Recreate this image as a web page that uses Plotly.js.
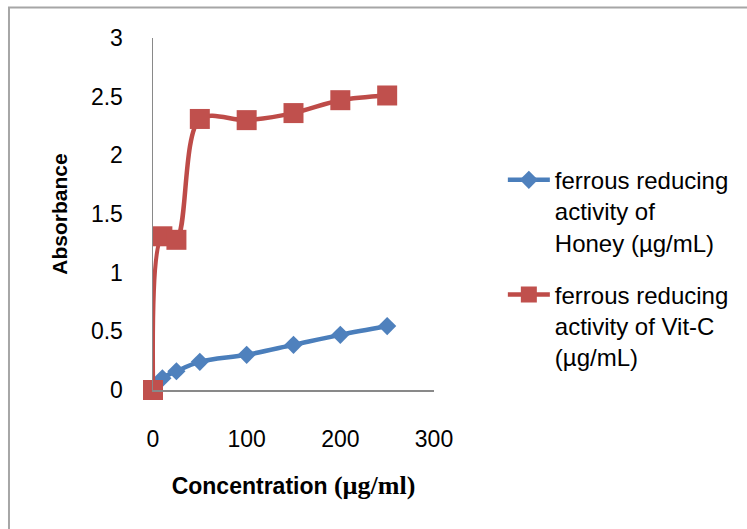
<!DOCTYPE html>
<html>
<head>
<meta charset="utf-8">
<script src="https://cdn.plot.ly/plotly-3.0.1.min.js"></script>
<style>
html,body{margin:0;padding:0;background:#fff;}
#chart{width:747px;height:529px;}
</style>
</head>
<body>
<div id="chart"></div>
<script>
const concentration = [0, 10, 25, 50, 100, 150, 200, 250];
const honeyAbs = [0, 0.10, 0.16, 0.24, 0.30, 0.385, 0.47, 0.545];
const vitCAbs = [0, 1.31, 1.28, 2.31, 2.30, 2.36, 2.47, 2.51];
const seriesNames = [
  'ferrous reducing<br>activity of<br>Honey (µg/mL)',
  'ferrous reducing<br>activity of Vit-C<br>(µg/mL)'
];
const xTicks = [0, 100, 200, 300];
const yTicks = [0, 0.5, 1, 1.5, 2, 2.5, 3];

const font = 'Liberation Sans, Arial, sans-serif';

const traces = [
  {
    x: concentration, y: honeyAbs, name: seriesNames[0], legendgroup: 'g1',
    type: 'scatter', mode: 'lines+markers',
    line: {color: '#4a7ebb', width: 4.5, shape: 'spline', smoothing: 1},
    marker: {symbol: 'diamond', size: 14, color: '#4f81bd', line: {width: 0}},
    cliponaxis: false
  },
  {
    x: concentration, y: vitCAbs, name: seriesNames[1], legendgroup: 'g2',
    type: 'scatter', mode: 'lines+markers',
    line: {color: '#be4b48', width: 4.5, shape: 'spline', smoothing: 0.9},
    marker: {symbol: 'square', size: 20, color: '#c0504d', line: {width: 0}},
    cliponaxis: false
  }
];

const layout = {
  width: 747, height: 529,
  margin: {l: 153, r: 313, t: 38, b: 139, pad: 0},
  paper_bgcolor: '#ffffff', plot_bgcolor: '#ffffff',
  font: {family: font, size: 22, color: '#000'},
  showlegend: true,
  legend: {
    x: 1.245, y: 0.66, xanchor: 'left', yanchor: 'top',
    font: {family: font, size: 24, color: '#000'},
    itemwidth: 42, tracegroupgap: 18, traceorder: 'grouped', valign: 'top',
    bgcolor: 'rgba(0,0,0,0)', borderwidth: 0
  },
  xaxis: {
    range: [0, 300], tickvals: xTicks, ticktext: xTicks.map(String),
    showgrid: false, zeroline: false, showline: true,
    linecolor: '#898989', linewidth: 1.5, ticks: '',
    ticklabelstandoff: 28,
    tickfont: {family: font, size: 23, color: '#000'},
    title: {
      text: '<b>Concentration </b><span style="font-family:Liberation Serif, Times New Roman, serif;font-size:26px"><b>(µg/ml)</b></span>',
      font: {family: font, size: 23, color: '#000'}, standoff: 27
    },
    fixedrange: true
  },
  yaxis: {
    range: [0, 3], tickvals: yTicks, ticktext: yTicks.map(String),
    showgrid: false, zeroline: false, showline: true,
    linecolor: '#898989', linewidth: 1.5, ticks: '',
    ticklabelstandoff: 24,
    tickfont: {family: font, size: 23, color: '#000'},
    title: {text: '<b>Absorbance</b>', font: {family: font, size: 21, color: '#000'}, standoff: 17},
    fixedrange: true
  },
  shapes: [{
    type: 'rect', xref: 'paper', yref: 'paper',
    x0: -0.5125, x1: 2.4, y0: -0.6, y1: 1.087,
    line: {color: '#a6a6a6', width: 2}, fillcolor: 'rgba(0,0,0,0)', layer: 'below'
  }]
};

Plotly.newPlot('chart', traces, layout, {displayModeBar: false, staticPlot: true});
</script>
</body>
</html>
